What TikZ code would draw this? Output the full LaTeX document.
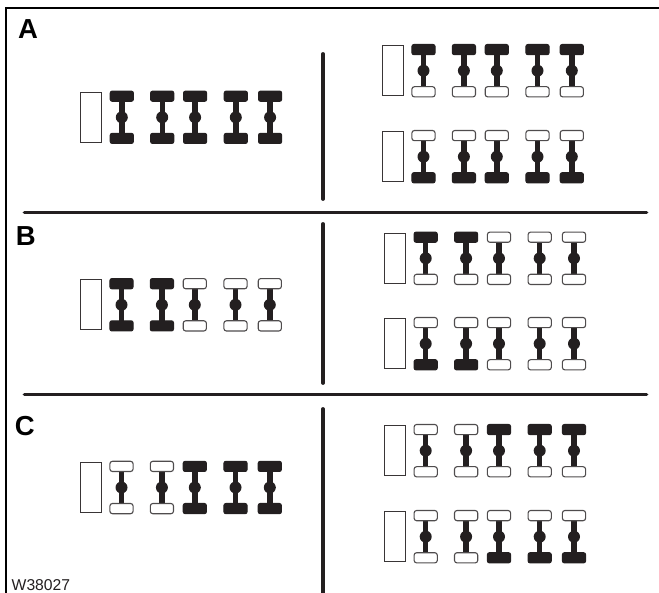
\documentclass[tikz,border=0pt]{standalone}
\usepackage{fontspec}
\setmainfont{Liberation Sans}
\definecolor{ink}{HTML}{231F20}
\tikzset{
  rule/.style={draw=ink,line width=3.8pt,line cap=round},
  frameline/.style={draw=black,line width=2.6pt},
  shaft/.style={draw=ink,line width=5.4pt},
  hub/.style={fill=ink},
  tyreF/.style={fill=ink,draw=ink,line width=1pt,rounded corners=2pt},
  tyreO/.style={fill=white,draw=ink!80,line width=1.1pt,rounded corners=2.5pt},
  cab/.style={fill=white,draw=ink!90,line width=1.1pt},
  letter/.style={anchor=base west,inner sep=0pt,font=\fontsize{27.5}{30}\selectfont\bfseries},
  code/.style={anchor=base west,inner sep=0pt,font=\fontsize{15.7}{18}\selectfont,text=ink}
}
% #1 centre x, #2 centre y, #3 top style, #4 bottom style
\newcommand{\axleunit}[4]{%
  \draw[shaft] (#1,#2-21) -- (#1,#2+21);
  \fill[hub] (#1,#2) circle (6);
  \draw[tyre#3] (#1-11.6,#2-26.2) rectangle (#1+11.6,#2-16);
  \draw[tyre#4] (#1-11.6,#2+16) rectangle (#1+11.6,#2+26.2);
}
\newcommand{\vehicle}[7]{%
  \draw[cab] (#1-41,#2-25) rectangle (#1-20.4,#2+25);
  \axlepair{#1}{#2}{#3}
  \axlepair{#1+40.4}{#2}{#4}
  \axlepair{#1+73.3}{#2}{#5}
  \axlepair{#1+114}{#2}{#6}
  \axlepair{#1+148.3}{#2}{#7}
}
\newcommand{\axlepair}[3]{\axlepairi{#1}{#2}#3}
\newcommand{\axlepairi}[4]{\axleunit{#1}{#2}{#3}{#4}}
\begin{document}
\begin{tikzpicture}[x=1pt,y=-1pt]
\useasboundingbox (0,0) rectangle (659,593);
\draw[frameline] (659,8) -- (6,8) -- (6,593);
% rules
\draw[rule] (24.5,212.5) -- (646.5,212.5);
\draw[rule] (24.5,394.5) -- (646.5,394.5);
\draw[rule] (323,54) -- (323,199);
\draw[rule] (323,224) -- (323,383);
\draw[rule] (323,409) -- (323,595);
% labels
\node[letter] (la) at (18,38.3) {A};
\node[letter] (lb) at (15.8,245.7) {B};
\node[letter] (lc) at (14.8,435.7) {C};
\node[code] (lw) at (11.5,590.6) {W38027};
% panel A
\vehicle{121.8}{117.3}{FF}{FF}{FF}{FF}{FF}
\vehicle{423.5}{70.7}{FO}{FO}{FO}{FO}{FO}
\vehicle{423.5}{156.7}{OF}{OF}{OF}{OF}{OF}
% panel B
\vehicle{121.5}{304.8}{FF}{FF}{OO}{OO}{OO}
\vehicle{425.7}{258.3}{FO}{FO}{OO}{OO}{OO}
\vehicle{425.7}{343.7}{OF}{OF}{OO}{OO}{OO}
% panel C
\vehicle{121.5}{487.5}{OO}{OO}{FF}{FF}{FF}
\vehicle{425.7}{450.7}{OO}{OO}{FO}{FO}{FO}
\vehicle{425.7}{536.7}{OO}{OO}{OF}{OF}{OF}
\end{tikzpicture}
\end{document}
